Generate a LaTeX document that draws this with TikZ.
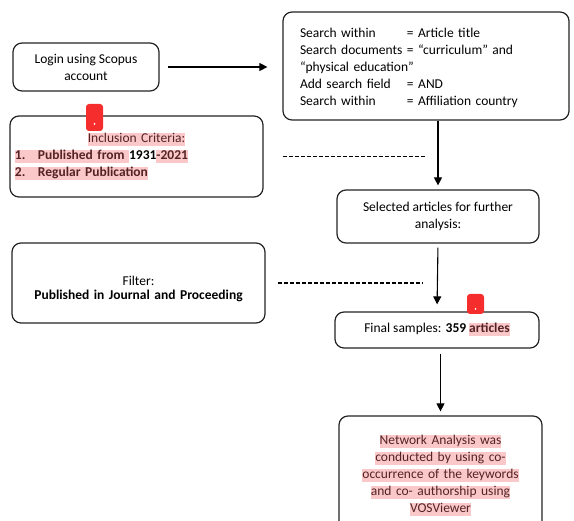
\documentclass[tikz,border=0pt]{standalone}
\usepackage{fontspec}
\setmainfont{Carlito}
\usetikzlibrary{arrows.meta}
\definecolor{hlpink}{RGB}{250,200,200}
\definecolor{hltext}{RGB}{85,35,35}
\definecolor{framegray}{RGB}{35,35,35}
\definecolor{markred}{RGB}{245,45,45}
\newcommand{\hlpart}[1]{{\setlength{\fboxsep}{0pt}\colorbox{hlpink}{\rule[-3.5pt]{0pt}{13pt}\textcolor{hltext}{#1}}}}

\begin{document}
\begin{tikzpicture}[x=1pt,y=1pt,yscale=-1,
  box/.style={draw=framegray, line width=1.2pt, rounded corners=9pt, align=center, inner sep=0pt, font=\fontsize{13.5}{17}\selectfont},
  arr/.style={-{Triangle[length=8pt,width=8pt]}, line width=1.1pt},
  dashline/.style={line width=1.1pt, dash pattern=on 4pt off 2pt}]
\useasboundingbox (0,0) rectangle (574,521);

%Shape: Rounded Rect - login
\node[box, minimum width=146pt, minimum height=48pt] (login) at (86,67) {Login using Scopus\\account};
%Shape: Rounded Rect - search
\node[box, minimum width=286pt, minimum height=108pt, text width=252pt, align=left] (search) at (426,66) {%
\vspace*{4pt}\par
\begin{tabular}{@{}l@{ }l@{}}
Search within & = Article title\\
Search documents & = “curriculum” and\\
\multicolumn{2}{@{}l@{}}{“physical education”}\\
Add search field & = AND\\
Search within & = Affiliation country
\end{tabular}};
%Shape: Rounded Rect - inclusion
\node[box, minimum width=253pt, minimum height=81pt, text width=243pt] (incl) at (136.5,156.5) {%
\centering\hlpart{Inclusion Criteria:}\par
\raggedright\bfseries
\hlpart{\makebox[23pt][l]{1.}Published from }1931\hlpart{-2021}\\
\hlpart{\makebox[23pt][l]{2.}Regular Publication}\par\vspace{10pt}};
%Shape: Rounded Rect - selected
\node[box, minimum width=202pt, minimum height=53pt] (selected) at (438,216.5) {Selected articles for further\\analysis:};
%Shape: Rounded Rect - filter
\node[box, minimum width=253pt, minimum height=80pt, text width=240pt, font=\fontsize{13.5}{13.5}\selectfont] (filter) at (138.5,283) {%
\vspace*{8pt}\par
Filter:\\\textbf{Published in Journal and Proceeding}};
%Shape: Rounded Rect - final
\node[box, minimum width=204pt, minimum height=36pt] (final) at (437,330) {Final samples: \textbf{359} \hlpart{\textbf{articles}}};
%Shape: Rounded Rect - network
\node[box, minimum width=203pt, minimum height=120pt, text width=190pt] (network) at (440.5,476) {%
\hlpart{Network Analysis was}\\
\hlpart{conducted by using co-}\\
\hlpart{occurrence of the keywords}\\
\hlpart{and co- authorship using}\\
\hlpart{VOSViewer}\par\vspace{12pt}};

%Straight Lines - arrows
\draw[arr, shorten <=8pt, shorten >=15pt] (login.east) -- (login.east -| search.west);
\draw[arr, shorten >=4pt] (search.south -| selected.north) -- (selected.north);
\draw[arr, shorten <=4pt, shorten >=7pt] (selected.south) -- (final.north);
\draw[arr, shorten <=5pt, shorten >=4pt] (final.south -| network.north) -- (network.north);
%Straight Lines - dashed
\draw[dashline, shorten <=19pt, shorten >=12pt] (incl.east) -- (incl.east -| selected.north);
\draw[dashline, shorten <=12pt, shorten >=15pt] (filter.east) -- (filter.east -| selected.north);

%Shape: markers
\fill[markred, rounded corners=3pt] (86,104) rectangle (103,131);
\fill[white] (94.5,124) circle (1pt);
\fill[markred, rounded corners=3pt] (467,294) rectangle (484,314);
\fill[white] (475.5,309) circle (1pt);

\end{tikzpicture}
\end{document}
